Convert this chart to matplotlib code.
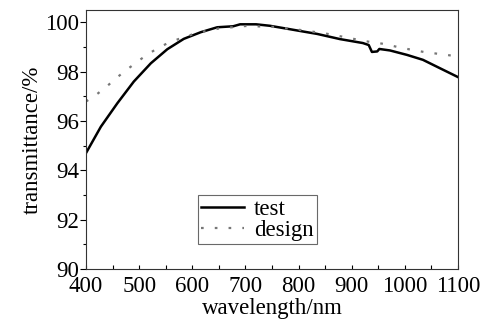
import matplotlib
matplotlib.use("Agg")
import matplotlib.pyplot as plt
from matplotlib.ticker import MultipleLocator

# measured transmittance (test) and designed curve
test_wl = [400, 428, 459, 490, 522, 553, 584, 616, 647, 677, 690, 720, 746, 784, 808,
           835, 878, 921, 932, 938, 948, 952, 972, 1004, 1034, 1066, 1100]
test_t = [94.7, 95.77, 96.72, 97.60, 98.34, 98.91, 99.33, 99.60, 99.80, 99.84, 99.92,
          99.92, 99.86, 99.72, 99.63, 99.53, 99.32, 99.16, 99.08, 98.80, 98.82, 98.92,
          98.86, 98.68, 98.48, 98.14, 97.78]

design_wl = [400, 419, 439, 458, 478, 497, 515, 535, 554, 575, 610, 650, 700, 750,
             800, 850, 897, 921, 959, 997, 1038, 1079, 1100]
design_t = [96.79, 97.06, 97.40, 97.76, 98.10, 98.41, 98.69, 98.95, 99.16, 99.33,
            99.58, 99.75, 99.85, 99.82, 99.70, 99.55, 99.36, 99.25, 99.13, 98.95,
            98.79, 98.68, 98.61]

plt.rcParams["font.family"] = ["Liberation Serif", "DejaVu Serif"]
plt.rcParams["font.size"] = 16.5

fig = plt.figure(figsize=(4.92, 3.2), dpi=100)
ax = fig.add_axes([86 / 492, 1 - 269 / 320, (458 - 86) / 492, (269 - 10) / 320])

ax.plot(test_wl, test_t, color="black", lw=1.8, label="test")
ax.plot(design_wl, design_t, color="#777777", lw=1.6, ls=(0, (1.2, 5)), label="design")

ax.set_xlim(400, 1100)
ax.set_ylim(90, 100.5)
ax.xaxis.set_major_locator(MultipleLocator(100))
ax.xaxis.set_minor_locator(MultipleLocator(50))
ax.yaxis.set_major_locator(MultipleLocator(2))
ax.yaxis.set_minor_locator(MultipleLocator(1))
ax.tick_params(axis="x", which="both", direction="in", length=3, width=0.8, pad=5)
ax.tick_params(axis="y", which="major", direction="out", length=4, width=0.8, pad=1)
ax.tick_params(axis="y", which="minor", direction="out", length=2, width=0.8)
for s in ax.spines.values():
    s.set_linewidth(0.8)
    s.set_color("#333333")

ax.set_xlabel("wavelength/nm", labelpad=1)
ax.set_ylabel("transmittance/%", labelpad=2)

leg = ax.legend(loc="center", bbox_to_anchor=(0.46, 0.19), frameon=True, fancybox=False,
                handlelength=1.9, handletextpad=0.4, borderpad=0.15, labelspacing=0.0,
                borderaxespad=0, fontsize=16.5)
leg.get_frame().set_edgecolor("#444444")
leg.get_frame().set_linewidth(0.8)

fig.savefig("out.png", dpi=100)
